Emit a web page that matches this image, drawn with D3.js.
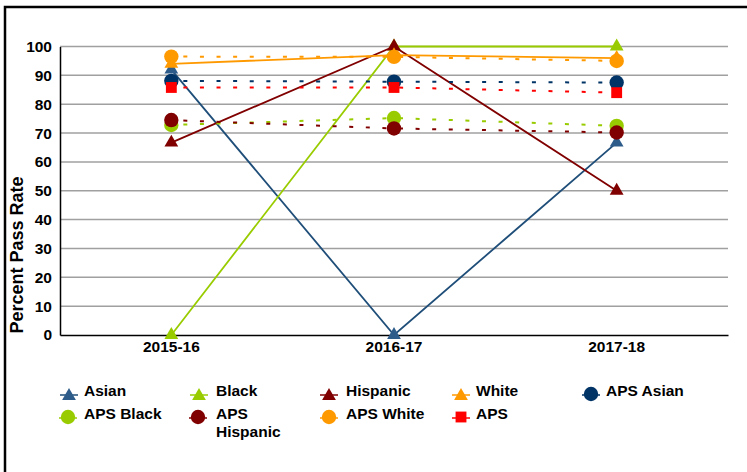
<!DOCTYPE html>
<html><head><meta charset="utf-8">
<script src="https://cdn.jsdelivr.net/npm/d3@7"></script>
<style>body{margin:0;background:#fff}svg{display:block}text{font-family:"Liberation Sans",Arial,sans-serif;font-weight:bold;fill:#000}</style>
</head><body>
<svg id="c" width="747" height="472"></svg>
<script>
const categories = ["2015-16", "2016-17", "2017-18"];
const yTicks = [0, 10, 20, 30, 40, 50, 60, 70, 80, 90, 100];
const seriesNames = ["Asian", "Black", "Hispanic", "White", "APS Asian", "APS Black", "APS Hispanic", "APS White", "APS"];
const asian = [92, 0, 66.7];
const black = [0, 100, 100];
const hispanic = [66.7, 100, 50];
const white = [94, 97, 96];
const apsAsian = [88.1, 87.8, 87.5];
const apsBlack = [72.8, 75.2, 72.5];
const apsHispanic = [74.5, 71.6, 70.2];
const apsWhite = [96.5, 96.4, 95.0];
const aps = [85.8, 85.8, 84.0];

const series = [
  {name: "Asian", values: asian, color: "#1f4e79", mcolor: "#2e5c8a", marker: "tri", dash: false},
  {name: "Black", values: black, color: "#99cc00", mcolor: "#99cc00", marker: "tri", dash: false},
  {name: "Hispanic", values: hispanic, color: "#800000", mcolor: "#800000", marker: "tri", dash: false},
  {name: "White", values: white, color: "#ff9900", mcolor: "#ff9900", marker: "tri", dash: false},
  {name: "APS Asian", values: apsAsian, color: "#003366", mcolor: "#003366", marker: "circle", dash: true},
  {name: "APS Black", values: apsBlack, color: "#99cc00", mcolor: "#99cc00", marker: "circle", dash: true},
  {name: "APS Hispanic", values: apsHispanic, color: "#800000", mcolor: "#800000", marker: "circle", dash: true},
  {name: "APS White", values: apsWhite, color: "#ff9900", mcolor: "#ff9900", marker: "circle", dash: true},
  {name: "APS", values: aps, color: "#ff0000", mcolor: "#ff0000", marker: "square", dash: true}
];

const svg = d3.select("#c");
svg.append("rect").attr("x", 5).attr("y", 7).attr("width", 800).attr("height", 600)
  .attr("fill", "none").attr("stroke", "#000").attr("stroke-width", 2.5);

const L = 60, R = 728, T = 46.5, B = 335;
const x = d3.scaleBand().domain(categories).range([L, R]);
const cx = c => x(c) + x.bandwidth() / 2;
const y = d3.scaleLinear().domain([0, 100]).range([B, T]);

svg.append("g").selectAll("line").data(yTicks.filter(t => t > 0)).join("line")
  .attr("x1", L).attr("x2", R).attr("y1", d => y(d)).attr("y2", d => y(d))
  .attr("stroke", "#a0a0a0").attr("stroke-width", 1.5);

const ya = svg.append("g").attr("transform", `translate(${L},0)`)
  .call(d3.axisLeft(y).tickValues(yTicks).tickSize(0).tickPadding(8));
ya.select(".domain").attr("stroke", "#000").attr("stroke-width", 1.5);
ya.selectAll("text").style("font-size", "15.5px").style("font-weight", "bold")
  .style("font-family", "Liberation Sans, Arial, sans-serif").attr("fill", "#000");

const xa = svg.append("g").attr("transform", `translate(0,${B})`)
  .call(d3.axisBottom(x).tickSize(0).tickPadding(6));
xa.select(".domain").attr("stroke", "#000").attr("stroke-width", 1.5);
xa.selectAll("text").style("font-size", "15.5px").style("font-weight", "bold")
  .style("font-family", "Liberation Sans, Arial, sans-serif").attr("fill", "#000");

svg.append("text").attr("transform", `translate(23,255) rotate(-90)`)
  .attr("text-anchor", "middle").style("font-size", "18px").text("Percent Pass Rate");

const line = d3.line().x((d, i) => cx(categories[i])).y(d => y(d));
const triSym = d3.symbol().type(d3.symbolTriangle).size(82);
const sqSym = d3.symbol().type(d3.symbolSquare).size(118);

function drawMarker(g, s, px, py) {
  if (s.marker === "tri") g.append("path").attr("d", triSym()).attr("transform", `translate(${px},${py})`).attr("fill", s.mcolor);
  else if (s.marker === "circle") g.append("circle").attr("cx", px).attr("cy", py).attr("r", 7.2).attr("fill", s.mcolor);
  else g.append("path").attr("d", sqSym()).attr("transform", `translate(${px},${py})`).attr("fill", s.mcolor);
}

series.forEach(s => {
  const g = svg.append("g");
  g.append("path").attr("d", line(s.values)).attr("fill", "none")
    .attr("stroke", s.color).attr("stroke-width", s.dash ? 2 : 1.8)
    .attr("stroke-dasharray", s.dash ? "4,12.6" : null)
    .attr("stroke-dashoffset", s.dash ? -12 : 0);
  s.values.forEach((v, i) => drawMarker(g, s, cx(categories[i]), y(v)));
});

const legPos = [
  {mx: 69, tx: 84, y: 390}, {mx: 199, tx: 216, y: 390}, {mx: 329, tx: 346, y: 390}, {mx: 461, tx: 476, y: 390}, {mx: 591, tx: 606, y: 390},
  {mx: 68, tx: 84, y: 413}, {mx: 198, tx: 216, y: 413}, {mx: 329, tx: 346, y: 413}, {mx: 461, tx: 476, y: 413}
];
series.forEach((s, i) => {
  const p = legPos[i];
  const g = svg.append("g");
  g.append("line").attr("x1", p.mx - 9).attr("x2", p.mx + 9).attr("y1", p.y + 5).attr("y2", p.y + 5)
    .attr("stroke", s.color).attr("stroke-width", 1.5);
  drawMarker(g, s, p.mx, p.y + (s.marker === "tri" ? 6 : 4));
  const t = g.append("text").attr("x", p.tx).attr("y", p.y + 6).style("font-size", "15.5px");
  if (s.name === "APS Hispanic") {
    t.append("tspan").attr("x", p.tx).text("APS");
    t.append("tspan").attr("x", p.tx).attr("dy", 18).text("Hispanic");
  } else t.text(s.name);
});
</script>
</body></html>
